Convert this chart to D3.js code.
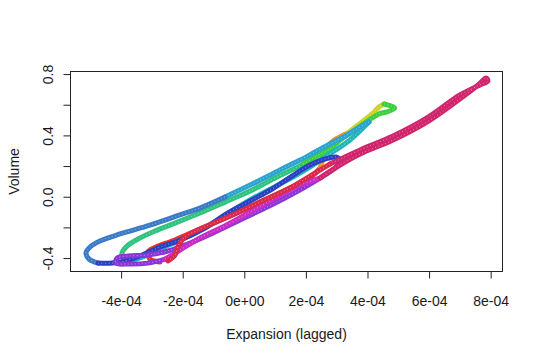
<!DOCTYPE html>
<html><head><meta charset="utf-8">
<script src="https://cdnjs.cloudflare.com/ajax/libs/d3/7.8.5/d3.min.js"></script>
<style>
html,body{margin:0;padding:0;background:#fff;}
text{font-family:"Liberation Sans",Arial,sans-serif;fill:#1a1a1a;}
</style></head>
<body><svg id="c" width="540" height="360"></svg>
<script>
// Expansion (lagged) vs Volume, one trajectory split into coloured phases
const segRed = [[-2.74e-4,-0.426],[-3.06e-4,-0.407],[-3.13e-4,-0.361],[-2.87e-4,-0.328],[-2.35e-4,-0.289],[-1.44e-4,-0.211],[-0.46e-4,-0.126],[0.51e-4,-0.035],[1.48e-4,0.057],[2.20e-4,0.135],[2.46e-4,0.187]];
const segOrange = [[2.46e-4,0.187],[2.58e-4,0.259],[2.72e-4,0.331],[2.98e-4,0.377],[3.36e-4,0.416]];
const segYellow = [[3.36e-4,0.416],[3.82e-4,0.487],[4.15e-4,0.540],[4.37e-4,0.585],[4.54e-4,0.605]];
const segGreen = [[4.54e-4,0.605],[4.89e-4,0.579],[4.63e-4,0.553],[4.37e-4,0.540],[4.05e-4,0.500],[3.59e-4,0.435],[3.11e-4,0.370],[2.78e-4,0.311],[2.30e-4,0.259],[1.81e-4,0.200]];
const segSpring = [[1.81e-4,0.200],[1.00e-4,0.122],[0.19e-4,0.037],[-0.63e-4,-0.035],[-1.44e-4,-0.106],[-2.25e-4,-0.172],[-2.90e-4,-0.224],[-3.45e-4,-0.276],[-3.81e-4,-0.322],[-3.97e-4,-0.367],[-3.91e-4,-0.407],[-3.61e-4,-0.413]];
const segCyan = [[-3.61e-4,-0.413],[-3.22e-4,-0.387],[-2.74e-4,-0.341],[-2.09e-4,-0.283],[-1.28e-4,-0.204],[-0.46e-4,-0.100],[0.35e-4,-0.002],[1.16e-4,0.083],[1.97e-4,0.174],[2.78e-4,0.279],[3.43e-4,0.370],[3.82e-4,0.442],[4.05e-4,0.487]];
const segSky = [[4.05e-4,0.487],[3.76e-4,0.455],[3.27e-4,0.396],[2.78e-4,0.344],[2.30e-4,0.292],[1.81e-4,0.239],[1.16e-4,0.175],[0.19e-4,0.076],[-0.63e-4,-0.002]];
const segAzure = [[-0.63e-4,-0.002],[-1.44e-4,-0.074],[-2.09e-4,-0.119],[-3.06e-4,-0.185],[-4.04e-4,-0.243],[-4.69e-4,-0.289],[-5.01e-4,-0.328],[-5.14e-4,-0.367],[-5.04e-4,-0.407],[-4.75e-4,-0.433]];
const segBlue = [[-4.75e-4,-0.433],[-4.30e-4,-0.433],[-3.78e-4,-0.413],[-3.32e-4,-0.380],[-2.74e-4,-0.328],[-2.09e-4,-0.283],[-1.28e-4,-0.204],[-0.53e-4,-0.106],[0.19e-4,-0.028],[0.90e-4,0.050],[1.55e-4,0.135],[2.13e-4,0.207],[2.62e-4,0.246],[2.98e-4,0.259],[3.14e-4,0.239]];
const segViolet = [[3.14e-4,0.239],[2.98e-4,0.194],[2.52e-4,0.129],[1.97e-4,0.063],[1.32e-4,-0.008],[0.67e-4,-0.074],[-0.14e-4,-0.152],[-0.95e-4,-0.230],[-1.76e-4,-0.302],[-2.48e-4,-0.354],[-3.13e-4,-0.380],[-3.78e-4,-0.387],[-4.13e-4,-0.400],[-4.17e-4,-0.433],[-3.78e-4,-0.439],[-3.13e-4,-0.433],[-2.57e-4,-0.407]];
const segMagenta = [[-2.57e-4,-0.407],[-2.09e-4,-0.348],[-1.44e-4,-0.269],[-0.63e-4,-0.191],[0.19e-4,-0.100],[1.00e-4,-0.008],[1.81e-4,0.076],[2.46e-4,0.122]];
const segRose = [[2.46e-4,0.122],[3.11e-4,0.207],[3.76e-4,0.279],[4.83e-4,0.370],[5.93e-4,0.487],[7.00e-4,0.638],[7.59e-4,0.729],[7.85e-4,0.775],[7.91e-4,0.755],[7.65e-4,0.729],[7.00e-4,0.664],[5.93e-4,0.514],[4.83e-4,0.396],[3.76e-4,0.305],[2.78e-4,0.213]];
const segCrimson = [[2.78e-4,0.213],[2.13e-4,0.135],[1.48e-4,0.057],[0.51e-4,-0.035],[-0.46e-4,-0.126],[-1.44e-4,-0.211],[-1.93e-4,-0.263],[-2.15e-4,-0.322],[-2.25e-4,-0.380],[-2.48e-4,-0.419]];

const segments = [segRed, segOrange, segYellow, segGreen, segSpring, segCyan, segSky, segAzure, segBlue, segViolet, segMagenta, segRose, segCrimson];
const segColors = ["#e8322a","#f0922a","#cfd02a","#3ccf3c","#2ec37e","#22b6bc","#2ca4d0","#3a7ac6","#2a40c2","#8a36d6","#c82cc6","#d0246c","#da2a48"];

const xTickValues = [-4e-4,-2e-4,0,2e-4,4e-4,6e-4,8e-4];
const xTickLabels = ["-4e-04","-2e-04","0e+00","2e-04","4e-04","6e-04","8e-04"];
const yTickValues = [-0.4,-0.2,0,0.2,0.4,0.6,0.8];
const yTickLabels = ["-0.4","","0.0","","0.4","","0.8"];
const xTitle = "Expansion (lagged)";
const yTitle = "Volume";

const svg = d3.select("#c");
const L=70, R=503, T=71, B=272;
const x = d3.scaleLinear().domain([-5.66e-4, 8.40e-4]).range([L, R]);
const y = d3.scaleLinear().domain([-0.491, 0.820]).range([B, T]);

const plot = svg.append("g");
plot.append("clipPath").attr("id","clip").append("rect").attr("x",L).attr("y",T).attr("width",R-L).attr("height",B-T);
const g = plot.append("g").attr("clip-path","url(#clip)");
const line = d3.line().x(d=>x(d[0])).y(d=>y(d[1])).curve(d3.curveCatmullRom.alpha(0.5));

segments.forEach((s,i)=>{
  g.append("path").attr("d",line(s)).attr("fill","none").attr("stroke",segColors[i])
    .attr("stroke-width",5).attr("stroke-linecap","round").attr("stroke-linejoin","round");
  g.append("path").attr("d",line(s)).attr("fill","none").attr("stroke","#fff")
    .attr("stroke-opacity",0.45).attr("stroke-width",1).attr("stroke-dasharray","1 2.5");
});

// box
svg.append("rect").attr("x",L+0.5).attr("y",T+0.5).attr("width",R-L-1).attr("height",B-T-1)
  .attr("fill","none").attr("stroke","#222").attr("stroke-width",1);

// x axis
const xa = svg.append("g").attr("transform",`translate(0,${B-0.5})`)
  .call(d3.axisBottom(x).tickValues(xTickValues).tickFormat((d,i)=>xTickLabels[i]).tickSize(7).tickSizeOuter(0));
xa.select(".domain").remove();
xa.selectAll("line").attr("stroke","#222");
xa.selectAll("text").attr("font-size",14).attr("fill","#1a1a1a").attr("font-family","Liberation Sans, Arial, sans-serif").attr("dy","0").attr("y",34);

// y axis
const ya = svg.append("g").attr("transform",`translate(${L+0.5},0)`)
  .call(d3.axisLeft(y).tickValues(yTickValues).tickFormat((d,i)=>yTickLabels[i]).tickSize(7).tickSizeOuter(0));
ya.select(".domain").remove();
ya.selectAll("line").attr("stroke","#222");
ya.selectAll("text").attr("font-size",14).attr("fill","#1a1a1a").attr("font-family","Liberation Sans, Arial, sans-serif")
  .attr("text-anchor","middle").attr("x",null).attr("dy","0")
  .attr("transform","translate(-18,0) rotate(-90)").attr("y",0);

svg.append("text").attr("x",(L+R)/2).attr("y",339).attr("text-anchor","middle").attr("font-size",14).text(xTitle);
svg.append("text").attr("transform",`translate(18.5,${(T+B)/2}) rotate(-90)`).attr("text-anchor","middle").attr("font-size",14).text(yTitle);
</script></body></html>
